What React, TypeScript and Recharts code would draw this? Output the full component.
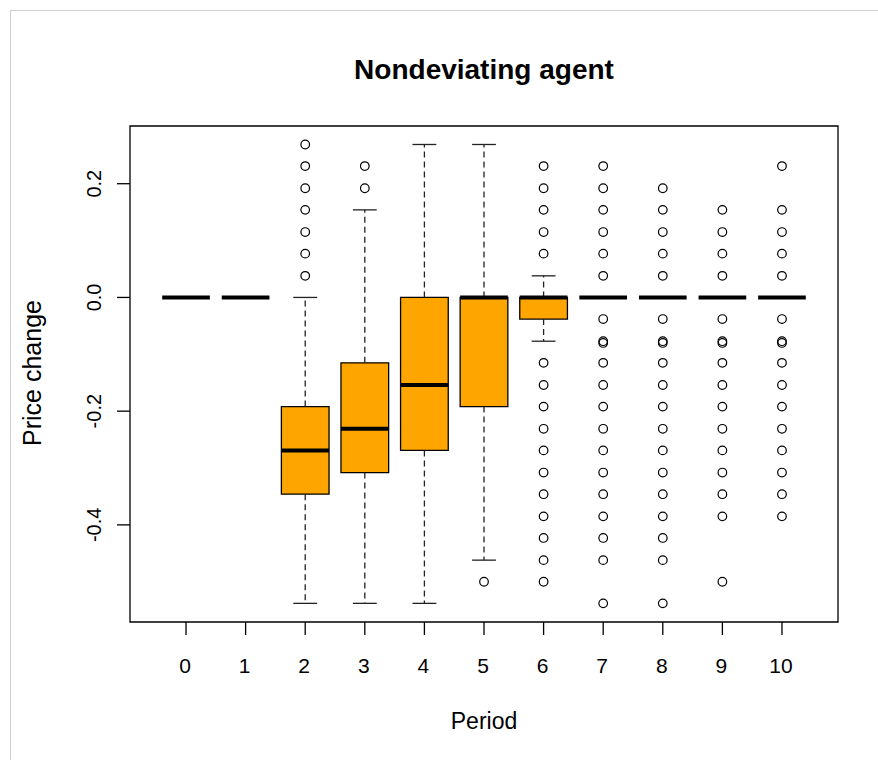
import {
  ComposedChart,
  ReferenceArea,
  ReferenceLine,
  Scatter,
  XAxis,
  YAxis,
} from "recharts";

// Price change per period, five-number summaries plus points outside the whiskers
const periods = [0, 1, 2, 3, 4, 5, 6, 7, 8, 9, 10];
const lowerWhisker = [0, 0, -0.538, -0.538, -0.538, -0.462, -0.077, 0, 0, 0, 0];
const lowerHinge = [0, 0, -0.346, -0.308, -0.269, -0.192, -0.038, 0, 0, 0, 0];
const medians = [0, 0, -0.269, -0.231, -0.154, 0, 0, 0, 0, 0, 0];
const upperHinge = [0, 0, -0.192, -0.115, 0, 0, 0, 0, 0, 0, 0];
const upperWhisker = [0, 0, 0, 0.154, 0.269, 0.269, 0.038, 0, 0, 0, 0];

const outliers: number[][] = [
  [],
  [],
  [0.269, 0.231, 0.192, 0.154, 0.115, 0.077, 0.038],
  [0.231, 0.192],
  [],
  [-0.5],
  [0.231, 0.192, 0.154, 0.115, 0.077, -0.115, -0.154, -0.192, -0.231, -0.269, -0.308, -0.346, -0.385, -0.423, -0.462, -0.5],
  [0.231, 0.192, 0.154, 0.115, 0.077, 0.038, -0.038, -0.077, -0.08, -0.115, -0.154, -0.192, -0.231, -0.269, -0.308, -0.346, -0.385, -0.423, -0.462, -0.538],
  [0.192, 0.154, 0.115, 0.077, 0.038, -0.038, -0.077, -0.08, -0.115, -0.154, -0.192, -0.231, -0.269, -0.308, -0.346, -0.385, -0.423, -0.462, -0.538],
  [0.154, 0.115, 0.077, 0.038, -0.038, -0.077, -0.08, -0.115, -0.154, -0.192, -0.231, -0.269, -0.308, -0.346, -0.385, -0.5],
  [0.231, 0.154, 0.115, 0.077, 0.038, -0.038, -0.077, -0.08, -0.115, -0.154, -0.192, -0.231, -0.269, -0.308, -0.346, -0.385],
];

const yTicks = [-0.4, -0.2, 0, 0.2];

const X_DOMAIN: [number, number] = [-0.94, 10.94];
const Y_DOMAIN: [number, number] = [-0.5708, 0.3015];
const BOX_HALF = 0.4;
const CAP_HALF = 0.2;
const FONT = "'Liberation Sans', Arial, sans-serif";

const points = periods.flatMap((p, i) => outliers[i].map((v) => ({ x: p, y: v })));

const XTick = (props: any) => {
  const { x, y, payload } = props;
  return (
    <text x={x - 1} y={y + 38} textAnchor="middle" fontSize={21} fontFamily={FONT} fill="#000">
      {payload.value}
    </text>
  );
};

const YTick = (props: any) => {
  const { x, y, payload } = props;
  const tx = x - 16;
  return (
    <text
      x={tx}
      y={y}
      transform={`rotate(-90 ${tx} ${y})`}
      textAnchor="middle"
      fontSize={20}
      fontFamily={FONT}
      fill="#000"
    >
      {Number(payload.value).toFixed(1)}
    </text>
  );
};

const Circle = (props: any) => (
  <circle cx={props.cx} cy={props.cy} r={4.3} fill="none" stroke="#000" strokeWidth={1.2} />
);

export default function App() {
  return (
    <div style={{ position: "absolute", left: 0, top: 0, width: 878, height: 760, background: "#fff" }}>
      <div
        style={{
          position: "absolute",
          left: 10,
          top: 10,
          width: 868,
          height: 750,
          borderLeft: "1px solid #cfcfcf",
          borderTop: "1px solid #cfcfcf",
        }}
      />
      <ComposedChart
        width={878}
        height={760}
        margin={{ top: 126, right: 40, bottom: 78, left: 0 }}
        style={{ position: "absolute", left: 0, top: 0 }}
      >
        <XAxis
          type="number"
          dataKey="x"
          domain={X_DOMAIN}
          ticks={periods}
          allowDataOverflow
          axisLine={false}
          tickSize={13}
          tickMargin={0}
          tickLine={{ stroke: "#000", strokeWidth: 1.3 }}
          tick={<XTick />}
          height={60}
          interval={0}
        />
        <YAxis
          type="number"
          dataKey="y"
          domain={Y_DOMAIN}
          ticks={yTicks}
          allowDataOverflow
          axisLine={false}
          tickSize={13}
          tickMargin={0}
          tickLine={{ stroke: "#000", strokeWidth: 1.3 }}
          tick={<YTick />}
          width={130}
          interval={0}
        />

        {/* boxes */}
        {periods.map((p, i) =>
          upperHinge[i] > lowerHinge[i] ? (
            <ReferenceArea
              key={`box-${p}`}
              x1={p - BOX_HALF}
              x2={p + BOX_HALF}
              y1={lowerHinge[i]}
              y2={upperHinge[i]}
              fill="#FFA500"
              fillOpacity={1}
              stroke="#000"
              strokeWidth={1.3}
              ifOverflow="visible"
            />
          ) : null
        )}

        {/* whiskers and staples */}
        {periods.flatMap((p, i) => {
          const out = [];
          if (upperWhisker[i] > upperHinge[i]) {
            out.push(
              <ReferenceLine
                key={`wu-${p}`}
                segment={[{ x: p, y: upperHinge[i] }, { x: p, y: upperWhisker[i] }]}
                stroke="#222"
                strokeWidth={1.3}
                strokeDasharray="6 4"
                ifOverflow="visible"
              />,
              <ReferenceLine
                key={`cu-${p}`}
                segment={[{ x: p - CAP_HALF, y: upperWhisker[i] }, { x: p + CAP_HALF, y: upperWhisker[i] }]}
                stroke="#222"
                strokeWidth={1.3}
                ifOverflow="visible"
              />
            );
          }
          if (lowerWhisker[i] < lowerHinge[i]) {
            out.push(
              <ReferenceLine
                key={`wl-${p}`}
                segment={[{ x: p, y: lowerHinge[i] }, { x: p, y: lowerWhisker[i] }]}
                stroke="#222"
                strokeWidth={1.3}
                strokeDasharray="6 4"
                ifOverflow="visible"
              />,
              <ReferenceLine
                key={`cl-${p}`}
                segment={[{ x: p - CAP_HALF, y: lowerWhisker[i] }, { x: p + CAP_HALF, y: lowerWhisker[i] }]}
                stroke="#222"
                strokeWidth={1.3}
                ifOverflow="visible"
              />
            );
          }
          return out;
        })}

        {/* medians */}
        {periods.map((p, i) => (
          <ReferenceLine
            key={`med-${p}`}
            segment={[{ x: p - BOX_HALF, y: medians[i] }, { x: p + BOX_HALF, y: medians[i] }]}
            stroke="#000"
            strokeWidth={4}
            ifOverflow="visible"
          />
        ))}

        <Scatter data={points} dataKey="y" shape={<Circle />} isAnimationActive={false} />

        {/* plot frame */}
        <ReferenceArea
          x1={X_DOMAIN[0]}
          x2={X_DOMAIN[1]}
          y1={Y_DOMAIN[0]}
          y2={Y_DOMAIN[1]}
          fill="none"
          stroke="#000"
          strokeWidth={1.3}
          ifOverflow="visible"
        />
      </ComposedChart>

      <svg
        width={878}
        height={760}
        style={{ position: "absolute", left: 0, top: 0, pointerEvents: "none" }}
      >
        <text x={484} y={79} textAnchor="middle" fontSize={28} fontWeight="bold" fontFamily={FONT}>
          Nondeviating agent
        </text>
        <text x={484} y={729} textAnchor="middle" fontSize={23} fontFamily={FONT}>
          Period
        </text>
        <text
          x={41}
          y={373}
          transform="rotate(-90 41 373)"
          textAnchor="middle"
          fontSize={25}
          fontFamily={FONT}
        >
          Price change
        </text>
      </svg>
    </div>
  );
}
